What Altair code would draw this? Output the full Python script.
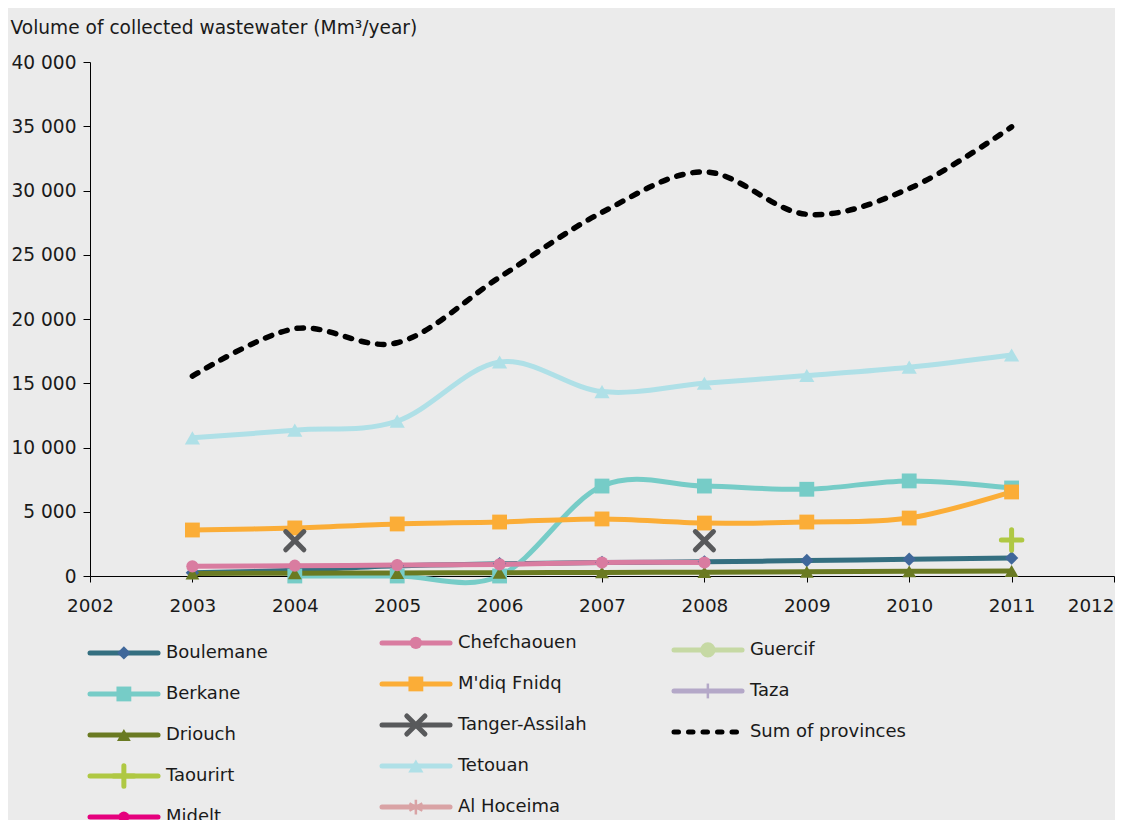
import altair as alt
import pandas as pd

# ---------------- data ----------------
years = [2003, 2004, 2005, 2006, 2007, 2008, 2009, 2010, 2011]

series_names = ["Boulemane", "Berkane", "Driouch", "Taourirt", "Midelt",
                "Chefchaouen", "M'diq Fnidq", "Tanger-Assilah", "Tetouan",
                "Al Hoceima", "Guercif", "Taza", "Sum of provinces"]

boulemane = [250, 450, 800, 950, 1050, 1100, 1200, 1300, 1400]
berkane = [None, 0, 0, 0, 7000, 7000, 6750, 7400, 6850]
driouch = [200, 220, 240, 260, 280, 300, 330, 360, 390]
taourirt = [None, None, None, None, None, None, None, None, 2800]
midelt = [None] * 9
chefchaouen = [750, 800, 850, 900, 1050, 1050, None, None, None]
mdiq_fnidq = [3580, 3740, 4050, 4200, 4440, 4120, 4200, 4510, 6540]
tanger_assilah = [None, 2750, None, None, None, 2750, None, None, None]
tetouan = [10750, 11350, 12050, 16650, 14350, 15000, 15600, 16250, 17200]
al_hoceima = [None] * 9
guercif = [None] * 9
taza = [None] * 9
sum_provinces = [15550, 19250, 18150, 23250, 28300, 31450, 28150, 30150, 34950]

series_values = [boulemane, berkane, driouch, taourirt, midelt, chefchaouen,
                 mdiq_fnidq, tanger_assilah, tetouan, al_hoceima, guercif,
                 taza, sum_provinces]

# legend layout (column / row of each entry)
legend_col = [0, 0, 0, 0, 0, 1, 1, 1, 1, 1, 2, 2, 2]
legend_row = [0, 1, 2, 3, 4, 0, 1, 2, 3, 4, 0, 1, 2]

# ---------------- styles ----------------
line_colors = ["#346f80", "#76ccc7", "#6a7a22", "#afc843", "#e5007d",
               "#d97ca0", "#fbad37", "#58595b", "#afe0e7", "#d9a3a5",
               "#c6d9a4", "#b4a8c8", "#000000"]
marker_colors = ["#3f679a", "#76ccc7", "#6a7a22", "#afc843", "#e5007d",
                 "#d97ca0", "#fbad37", "#58595b", "#afe0e7", "#d9a3a5",
                 "#c6d9a4", "#b4a8c8", "#000000"]
shapes = ["diamond", "square", "triangle-up", "M-1,0L1,0M0,-1L0,1", "circle",
          "circle", "square", "M-1,-1L1,1M-1,1L1,-1", "triangle-up",
          "M0,-1L0,1M-0.87,-0.5L0.87,0.5M-0.87,0.5L0.87,-0.5", "circle",
          "M0,-1L0,1", "circle"]
sizes = [180, 220, 190, 420, 120, 150, 220, 330, 230, 220, 230, 220, 10]

filled_set = ["Boulemane", "Berkane", "Driouch", "Midelt", "Chefchaouen",
              "M'diq Fnidq", "Tetouan", "Guercif"]
thick_stroked_set = ["Taourirt", "Tanger-Assilah"]
thin_stroked_set = ["Al Hoceima", "Taza"]

FONT = "DejaVu Sans"
TXT = "#1a1a1a"
PLOT_W = 1024

# ---------------- tables ----------------
rows = []
for name, vals in zip(series_names, series_values):
    seg = 0
    for yr, v in zip(years, vals):
        if v is None:
            seg += 1
            continue
        rows.append({"series": name, "year": yr, "value": v, "seg": f"{name}-{seg}"})
df = pd.DataFrame(rows)

legend_df = pd.DataFrame({"series": series_names, "col": legend_col, "row": legend_row})

stroke_scale = alt.Scale(domain=series_names, range=line_colors)
fill_scale = alt.Scale(domain=series_names, range=marker_colors)
shape_scale = alt.Scale(domain=series_names, range=shapes)
size_scale = alt.Scale(type="ordinal", domain=series_names, range=sizes)

x_enc = alt.X("year:Q",
              scale=alt.Scale(domain=[2002, 2012], nice=False, zero=False),
              axis=alt.Axis(values=list(range(2002, 2013)), format="d", title=None,
                            grid=False, tickSize=6, labelPadding=14, labelFlush=False,
                            labelFontSize=18.4,
                            labelAlign={"condition": {"test": "datum.value >= 2012", "value": "right"},
                                        "value": "center"}))
y_enc = alt.Y("value:Q",
              scale=alt.Scale(domain=[0, 40000], nice=False),
              axis=alt.Axis(values=list(range(0, 40001, 5000)),
                            labelExpr="replace(format(datum.value, ','), ',', ' ')",
                            grid=False, tickSize=7, labelPadding=7, labelFontSize=18.6,
                            title="Volume of collected wastewater (Mm³/year)",
                            titleAngle=0, titleAlign="left", titleBaseline="middle",
                            titleX=-80, titleY=-35, titleFontWeight="normal",
                            titleFontSize=18.6, titleFont=FONT, titleColor=TXT))

base = alt.Chart(df)

lines = base.transform_filter(
    alt.datum.series != "Sum of provinces"
).mark_line(interpolate="cardinal", strokeWidth=5, strokeCap="round",
            strokeJoin="round").encode(
    x=x_enc, y=y_enc,
    stroke=alt.Stroke("series:N", scale=stroke_scale, legend=None),
    detail="seg:N",
)

sum_line = base.transform_filter(
    alt.datum.series == "Sum of provinces"
).mark_line(interpolate="cardinal", strokeWidth=5.5, strokeCap="round",
            strokeDash=[6.5, 10], color="#000000").encode(x=x_enc, y=y_enc)

filled_pts = base.transform_filter(
    alt.FieldOneOfPredicate(field="series", oneOf=filled_set)
).mark_point(filled=True, opacity=1, strokeWidth=0).encode(
    x=x_enc, y=y_enc,
    fill=alt.Fill("series:N", scale=fill_scale, legend=None),
    shape=alt.Shape("series:N", scale=shape_scale, legend=None),
    size=alt.Size("series:N", scale=size_scale, legend=None),
)

stroked_pts = base.transform_filter(
    alt.FieldOneOfPredicate(field="series", oneOf=thick_stroked_set)
).mark_point(filled=False, opacity=1, strokeWidth=5, strokeCap="round").encode(
    x=x_enc, y=y_enc,
    stroke=alt.Stroke("series:N", scale=stroke_scale, legend=None),
    shape=alt.Shape("series:N", scale=shape_scale, legend=None),
    size=alt.Size("series:N", scale=size_scale, legend=None),
)

main = alt.layer(lines, sum_line, filled_pts, stroked_pts).properties(width=PLOT_W, height=514)

# ---------------- legend ----------------
lx = alt.Scale(domain=[0, PLOT_W / 292.0], nice=False, zero=False)
ly = alt.Scale(domain=[-0.68, 4.68], nice=False, zero=False, reverse=True)

lbase = alt.Chart(legend_df).transform_calculate(
    x0="datum.col",
    x1="datum.col + 0.233",
    xm="datum.col + 0.116",
    xt="datum.col + 0.26",
    yy="datum.row + (datum.col == 1 ? -0.244 : (datum.col == 2 ? -0.073 : 0))",
)

lx0 = alt.X("x0:Q", scale=lx, axis=None)
lyy = alt.Y("yy:Q", scale=ly, axis=None)

leg_rules = lbase.transform_filter(
    alt.datum.series != "Sum of provinces"
).mark_rule(strokeWidth=5, strokeCap="round").encode(
    x=lx0, x2="x1:Q", y=lyy,
    stroke=alt.Stroke("series:N", scale=stroke_scale, legend=None),
)
leg_sum = lbase.transform_filter(
    alt.datum.series == "Sum of provinces"
).mark_rule(strokeWidth=5, strokeCap="round", strokeDash=[4.5, 10],
            color="#000000").encode(x=lx0, x2="x1:Q", y=lyy)

leg_filled = lbase.transform_filter(
    alt.FieldOneOfPredicate(field="series", oneOf=filled_set)
).mark_point(filled=True, opacity=1, strokeWidth=0).encode(
    x=alt.X("xm:Q", scale=lx, axis=None), y=lyy,
    fill=alt.Fill("series:N", scale=fill_scale, legend=None),
    shape=alt.Shape("series:N", scale=shape_scale, legend=None),
    size=alt.Size("series:N", scale=size_scale, legend=None),
)
leg_thick = lbase.transform_filter(
    alt.FieldOneOfPredicate(field="series", oneOf=thick_stroked_set)
).mark_point(filled=False, opacity=1, strokeWidth=5, strokeCap="round").encode(
    x=alt.X("xm:Q", scale=lx, axis=None), y=lyy,
    stroke=alt.Stroke("series:N", scale=stroke_scale, legend=None),
    shape=alt.Shape("series:N", scale=shape_scale, legend=None),
    size=alt.Size("series:N", scale=size_scale, legend=None),
)
leg_thin = lbase.transform_filter(
    alt.FieldOneOfPredicate(field="series", oneOf=thin_stroked_set)
).mark_point(filled=False, opacity=1, strokeWidth=2.5).encode(
    x=alt.X("xm:Q", scale=lx, axis=None), y=lyy,
    stroke=alt.Stroke("series:N", scale=stroke_scale, legend=None),
    shape=alt.Shape("series:N", scale=shape_scale, legend=None),
    size=alt.Size("series:N", scale=size_scale, legend=None),
)
leg_text = lbase.mark_text(align="left", baseline="middle", fontSize=18,
                           font=FONT, color=TXT).encode(
    x=alt.X("xt:Q", scale=lx, axis=None), y=lyy, text="series:N",
)

legend = alt.layer(leg_rules, leg_sum, leg_filled, leg_thick, leg_thin, leg_text).properties(
    width=PLOT_W, height=220)

chart = alt.vconcat(main, legend, spacing=10).resolve_scale(
    x="independent", y="independent"
).properties(
    background="#ebebeb",
    padding={"left": 2, "top": 10, "right": 0, "bottom": 0},
).configure_view(
    stroke=None
).configure_axis(
    labelFont=FONT, labelFontSize=18.6, labelColor=TXT,
    domainColor="#000000", tickColor="#000000", domainWidth=1, tickWidth=1,
)

chart.save("out.html", embed_options={"renderer": "svg", "actions": False})
